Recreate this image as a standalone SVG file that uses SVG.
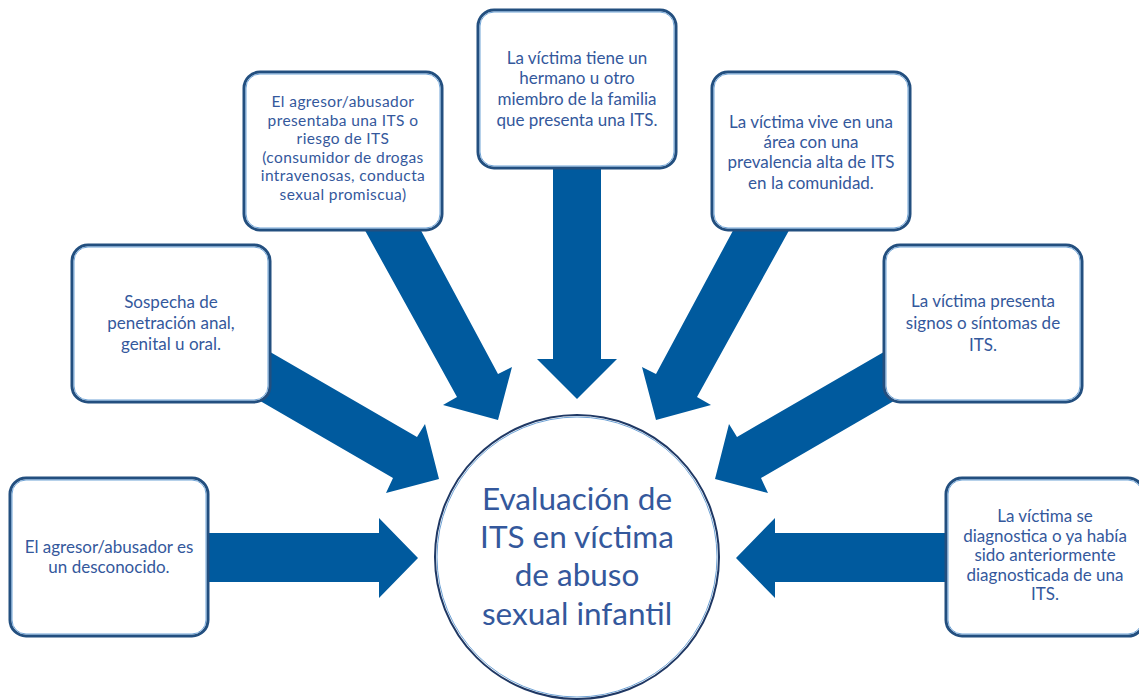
<svg xmlns="http://www.w3.org/2000/svg" width="1139" height="700" viewBox="0 0 1139 700">
<defs>
<style>
.arrow{fill:#005A9E;}
.box{fill:#ffffff;stroke:#234F7F;stroke-width:3;}
.boxin{fill:none;stroke:#6FA3D6;stroke-width:1;}
.t{font-family:Lato,"Open Sans",sans-serif;font-size:17px;fill:#34589C;text-anchor:middle;}
.t3{font-family:Lato,"Open Sans",sans-serif;font-size:15.5px;letter-spacing:0.4px;fill:#34589C;text-anchor:middle;}
.ct{font-family:Lato,"Open Sans",sans-serif;font-size:31.5px;fill:#34589C;text-anchor:middle;}
.circ{fill:#ffffff;stroke:#1F3864;stroke-width:2;}
.circin{fill:none;stroke:#6FA3D6;stroke-width:1;}
</style>
</defs>
<rect width="1139" height="700" fill="#ffffff"/>
<g id="connectors">
<polygon class="arrow" points="200,533 379,533 379,518 418,558 379,598 379,582 200,582"/>
<polygon class="arrow" points="954,533 775,533 775,518 736,558 775,598 775,582 954,582"/>
<polygon class="arrow" points="553,160 601,160 601,359 617,359 577,399 537,359 553,359"/>
<polygon class="arrow" points="362,225 418,225 498,374 512,367 498,420 443,405 457,397"/>
<polygon class="arrow" points="792,225 736,225 656,374 642,367 656,420 711,405 697,397"/>
<polygon class="arrow" points="265,349 417,437 425,424 439,479 386,493 393,478 255,398"/>
<polygon class="arrow" points="889,349 737,437 729,424 715,479 768,493 761,478 899,398"/>
</g>
<g id="n-center">
<circle class="circ" cx="577" cy="557" r="142"/>
<circle class="circin" cx="577" cy="557" r="140"/>
<text class="ct" x="577" y="510">Evaluación de</text>
<text class="ct" x="577" y="548">ITS en víctima</text>
<text class="ct" x="577" y="586">de abuso</text>
<text class="ct" x="577" y="625">sexual infantil</text>
</g>
<g id="n1">
<rect class="box" x="10" y="478" width="198" height="158" rx="16"/>
<rect class="boxin" x="12" y="480" width="194" height="154" rx="14"/>
<text class="t" x="109" y="553">El agresor/abusador es</text>
<text class="t" x="109" y="573">un desconocido.</text>
</g>
<g id="n2">
<rect class="box" x="72" y="245" width="198" height="157" rx="16"/>
<rect class="boxin" x="74" y="247" width="194" height="153" rx="14"/>
<text class="t" x="171" y="308">Sospecha de</text>
<text class="t" x="171" y="329">penetración anal,</text>
<text class="t" x="171" y="350">genital u oral.</text>
</g>
<g id="n3">
<rect class="box" x="244" y="72" width="198" height="158" rx="16"/>
<rect class="boxin" x="246" y="74" width="194" height="154" rx="14"/>
<text class="t3" x="343" y="107">El agresor/abusador</text>
<text class="t3" x="343" y="125.6">presentaba una ITS o</text>
<text class="t3" x="343" y="144.2">riesgo de ITS</text>
<text class="t3" x="343" y="162.8">(consumidor de drogas</text>
<text class="t3" x="343" y="181.4">intravenosas, conducta</text>
<text class="t3" x="343" y="200">sexual promiscua)</text>
</g>
<g id="n4">
<rect class="box" x="478" y="10" width="198" height="158" rx="16"/>
<rect class="boxin" x="480" y="12" width="194" height="154" rx="14"/>
<text class="t" x="577" y="64">La víctima tiene un</text>
<text class="t" x="577" y="84">hermano u otro</text>
<text class="t" x="577" y="105">miembro de la familia</text>
<text class="t" x="577" y="126">que presenta una ITS.</text>
</g>
<g id="n5">
<rect class="box" x="712" y="72" width="198" height="158" rx="16"/>
<rect class="boxin" x="714" y="74" width="194" height="154" rx="14"/>
<text class="t" x="811" y="128">La víctima vive en una</text>
<text class="t" x="811" y="148">área con una</text>
<text class="t" x="811" y="168">prevalencia alta de ITS</text>
<text class="t" x="811" y="189">en la comunidad.</text>
</g>
<g id="n6">
<rect class="box" x="884" y="245" width="198" height="157" rx="16"/>
<rect class="boxin" x="886" y="247" width="194" height="153" rx="14"/>
<text class="t" x="983" y="307">La víctima presenta</text>
<text class="t" x="983" y="329">signos o síntomas de</text>
<text class="t" x="983" y="351">ITS.</text>
</g>
<g id="n7">
<rect class="box" x="946" y="478" width="198" height="158" rx="16"/>
<rect class="boxin" x="948" y="480" width="194" height="154" rx="14"/>
<text class="t" x="1045" y="522">La víctima se</text>
<text class="t" x="1045" y="542">diagnostica o ya había</text>
<text class="t" x="1045" y="561">sido anteriormente</text>
<text class="t" x="1045" y="581">diagnosticada de una</text>
<text class="t" x="1045" y="600">ITS.</text>
</g>
</svg>
